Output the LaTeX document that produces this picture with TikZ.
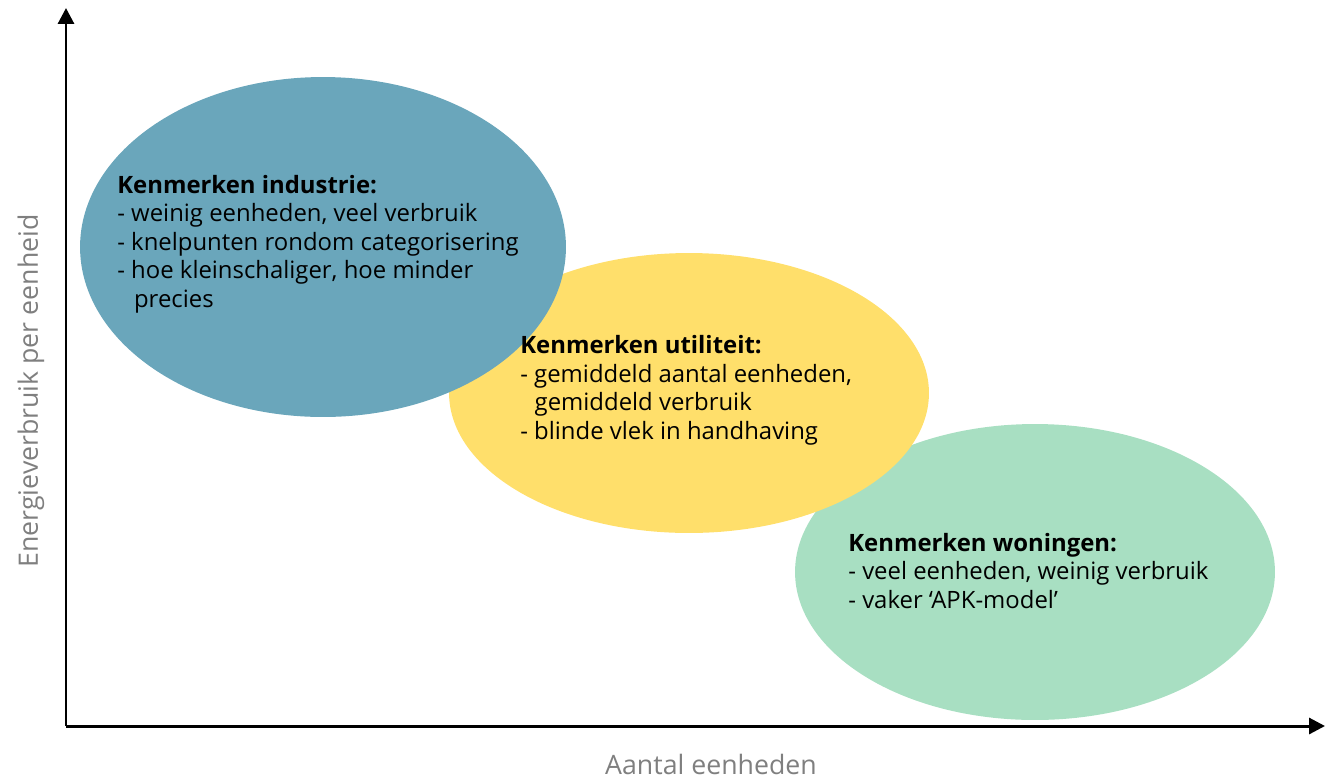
\documentclass[tikz,border=0pt]{standalone}
\usepackage{fontspec}
\setmainfont{Open Sans}
\usetikzlibrary{shapes.geometric,arrows.meta}
\definecolor{cblue}{HTML}{6AA6BB}
\definecolor{cyellow}{HTML}{FFDF6B}
\definecolor{cgreen}{HTML}{A8DFC2}
\definecolor{cgray}{HTML}{7F7F7F}
\tikzset{
  blob/.style={ellipse, inner sep=0pt, draw=none},
  info/.style={anchor=base west, align=left, inner sep=0pt, font=\fontsize{13.6}{16.2}\selectfont, text=black},
  axis/.style={line width=1.7pt, -{Triangle[width=9pt,length=9pt]}},
  axlabel/.style={text=cgray, font=\fontsize{15.2}{18}\selectfont, inner sep=0pt}
}
\begin{document}
\begin{tikzpicture}[x=0.02cm,y=-0.02cm]
\useasboundingbox (0,0) rectangle (1337,778);
% ellipses (green bottom, yellow middle, blue top)
\node[blob, fill=cgreen, minimum width=9.6cm, minimum height=5.92cm] (green) at (1035,572) {};
\node[blob, fill=cyellow, minimum width=9.6cm, minimum height=5.6cm] (yellow) at (689,393) {};
\node[blob, fill=cblue, minimum width=9.72cm, minimum height=6.8cm] (blue) at (323,247) {};
% axes
\coordinate (origin) at (66,726);
\coordinate (ytip) at (66,8);
\coordinate (xtip) at (1325,726);
\draw[axis] (origin) -- (ytip);
\draw[axis] (origin) -- (xtip);
\node[axlabel, rotate=90] (ylab) at (31,391) {Energieverbruik per eenheid};
\node[axlabel, anchor=base] (xlab) at (711,774) {Aantal eenheden};
% texts (anchor is baseline of last line)
\node[info] (tind) at (117,307) {\textbf{Kenmerken industrie:}\\- weinig eenheden, veel verbruik\\- knelpunten rondom categorisering\\- hoe kleinschaliger, hoe minder\\\hspace*{0.7em}precies};
\node[info] (tutil) at (520,439) {\textbf{Kenmerken utiliteit:}\\- gemiddeld aantal eenheden,\\\hspace*{0.6em}gemiddeld verbruik\\- blinde vlek in handhaving};
\node[info] (twon) at (848,608) {\textbf{Kenmerken woningen:}\\- veel eenheden, weinig verbruik\\- vaker ‘APK-model’};
\end{tikzpicture}
\end{document}
